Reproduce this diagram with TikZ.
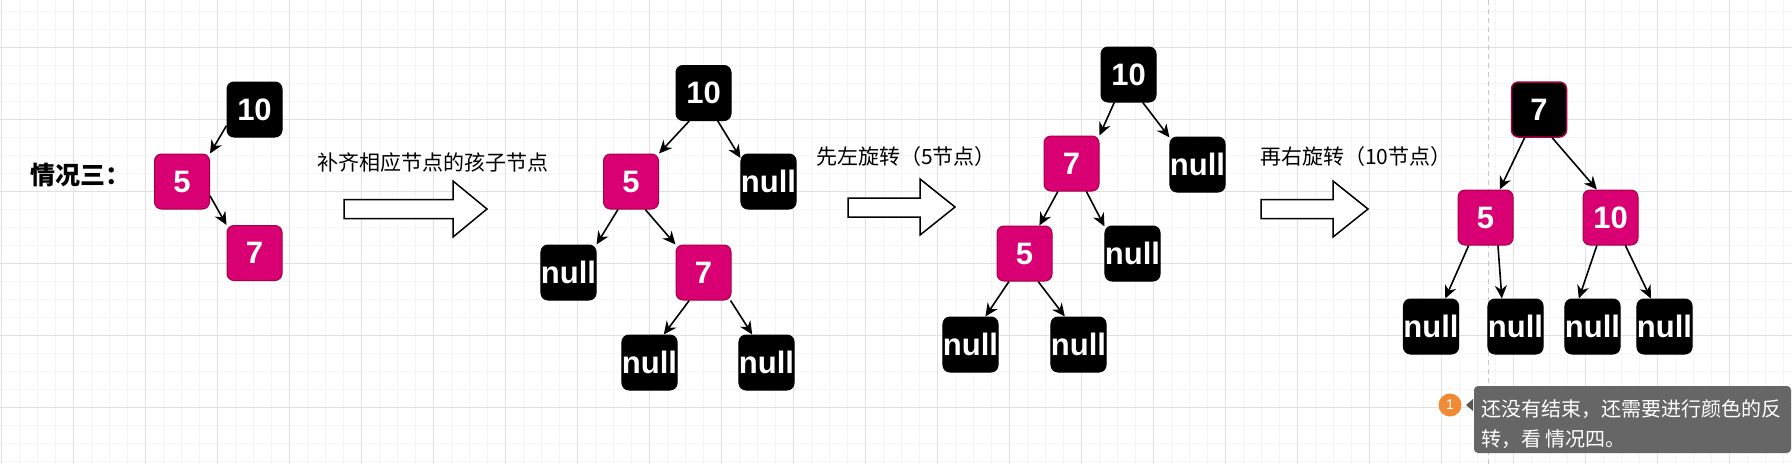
\documentclass[tikz,border=0pt]{standalone}
\usepackage{fontspec}
\setmainfont{Liberation Sans}
\newfontfamily\cjk{Noto Sans CJK SC}
\usetikzlibrary{arrows.meta}
\definecolor{pinkf}{HTML}{D80073}
\definecolor{pinks}{HTML}{A50040}
\definecolor{gminor}{HTML}{F5F5F5}
\definecolor{gmajor}{HTML}{E0E0E0}
\definecolor{pagedash}{HTML}{C8C8C8}
\definecolor{calloutbg}{HTML}{666666}
\definecolor{badgeor}{HTML}{F08A35}
\definecolor{tipgray}{HTML}{555555}
\tikzset{
  tn/.style={minimum size=55pt, inner sep=0pt, rounded corners=7pt, line width=1pt, text=white, font=\fontsize{31}{31}\selectfont\bfseries},
  rb/.style={tn, fill=pinkf, draw=pinks},
  bk/.style={tn, fill=black, draw=black},
  rootbk/.style={tn, fill=black, draw=pinks, line width=1.5pt},
  edge/.style={line width=1.6pt, -{Stealth[length=13pt,width=12pt]}},
  bigarrow/.style={draw=black, fill=white, line width=1.5pt, line join=miter},
  lbl/.style={font=\cjk\fontsize{21}{25}\selectfont, inner sep=0pt},
  note/.style={font=\cjk\fontsize{20}{24}\selectfont, inner sep=0pt, text=white, anchor=west}
}
\begin{document}
\begin{tikzpicture}[x=1pt,y=-1pt]
\path[use as bounding box, fill=white] (0,0) rectangle (1792,464);
% grid
\foreach \gx in {1,19,...,1792} \draw[gminor, line width=1pt] (\gx,0) -- (\gx,464);
\foreach \gy in {11,29,...,464} \draw[gminor, line width=1pt] (0,\gy) -- (1792,\gy);
\foreach \gx in {1,73,...,1792} \draw[gmajor, line width=1pt] (\gx,0) -- (\gx,464);
\foreach \gy in {47,119,...,464} \draw[gmajor, line width=1pt] (0,\gy) -- (1792,\gy);
\draw[pagedash, line width=1.5pt, dash pattern=on 5pt off 4pt] (1488.5,0) -- (1488.5,464);

% title
\node[font=\cjk\bfseries\fontsize{25}{30}\selectfont, anchor=west, inner sep=0pt] (t0) at (30,175) {情况三：};

% tree 1
\node[bk] (a10) at (254.5,109.5) {10};
\node[rb] (a5) at (182,181.5) {5};
\node[rb] (a7) at (254.5,253) {7};
\draw[edge] (a10.-150) -- (a5.north east);
\draw[edge] (a5.-27) -- (a7.north west);

% arrow 1
\node[lbl] (t1) at (433,163) {补齐相应节点的孩子节点};
\draw[bigarrow] (344,199.5) -- (453,199.5) -- (453,181) -- (487,209) -- (453,237) -- (453,218.5) -- (344,218.5) -- cycle;

% tree 2
\node[bk] (b10) at (703.5,93) {10};
\node[bk] (bnr) at (768.5,181.5) {null};
\node[rb] (b5) at (631,181.5) {5};
\node[bk] (bnl) at (568.5,272.5) {null};
\node[rb] (b7) at (703.5,272.5) {7};
\node[bk] (bn1) at (649.5,362.5) {null};
\node[bk] (bn2) at (766.5,362.5) {null};
\draw[edge] (b10.-117) -- (b5.north east);
\draw[edge] (b10.-63) -- (bnr.140);
\draw[edge] (b5.-115) -- (bnl.north east);
\draw[edge] (b5.-63) -- (b7.north west);
\draw[edge] (b7.-117) -- (bn1.63);
\draw[edge] (b7.-46) -- (bn2.117);

% arrow 2
\node[lbl, anchor=west] (t2) at (816,157) {先左旋转（5节点）};
\draw[bigarrow] (848,198) -- (920,198) -- (920,179) -- (955,207) -- (920,235) -- (920,217) -- (848,217) -- cycle;

% tree 3
\node[bk] (c10) at (1128.5,74.5) {10};
\node[bk] (cnr) at (1197.5,164.5) {null};
\node[rb] (c7) at (1071.5,163.5) {7};
\node[bk] (cnm) at (1132.5,253.5) {null};
\node[rb] (c5) at (1024.5,253.5) {5};
\node[bk] (cn1) at (970.5,344.5) {null};
\node[bk] (cn2) at (1078.5,344.5) {null};
\draw[edge] (c10.-117) -- (c7.north east);
\draw[edge] (c10.-63) -- (cnr.136);
\draw[edge] (c7.-116) -- (c5.62);
\draw[edge] (c7.-62) -- (cnm.136);
\draw[edge] (c5.-119) -- (cn1.62);
\draw[edge] (c5.-64) -- (cn2.116);

% arrow 3
\node[lbl, anchor=west] (t3) at (1260,157) {再右旋转（10节点）};
\draw[bigarrow] (1261,199.5) -- (1333,199.5) -- (1333,181) -- (1368,209) -- (1333,237) -- (1333,218.5) -- (1261,218.5) -- cycle;

% tree 4
\node[rootbk] (d7) at (1539,109.5) {7};
\node[rb] (d5) at (1485.5,217.5) {5};
\node[rb] (d10) at (1610.5,217.5) {10};
\node[bk] (dn1) at (1431,326.5) {null};
\node[bk] (dn2) at (1515.5,326.5) {null};
\node[bk] (dn3) at (1592.5,326.5) {null};
\node[bk] (dn4) at (1664.5,326.5) {null};
\draw[edge] (d7.-117) -- (d5.63);
\draw[edge] (d7.-65) -- (d10.116);
\draw[edge] (d5.-121) -- (dn1.63);
\draw[edge] (d5.-66) -- (dn2.116);
\draw[edge] (d10.-116) -- (dn3.116);
\draw[edge] (d10.-62) -- (dn4.116);

% comment callout
\fill[calloutbg, rounded corners=4pt] (1474,386) rectangle (1791,453);
\fill[tipgray] (1466,405) -- (1473,399) -- (1473,411) -- cycle;
\node[circle, fill=badgeor, minimum size=23pt, inner sep=0pt, text=white, font=\fontsize{14}{14}\selectfont] (badge) at (1450,405) {1};
\node[note] (n1) at (1481,409) {还没有结束，还需要进行颜色的反};
\node[note] (n2) at (1481,439) {转，看 情况四。};
\end{tikzpicture}
\end{document}
